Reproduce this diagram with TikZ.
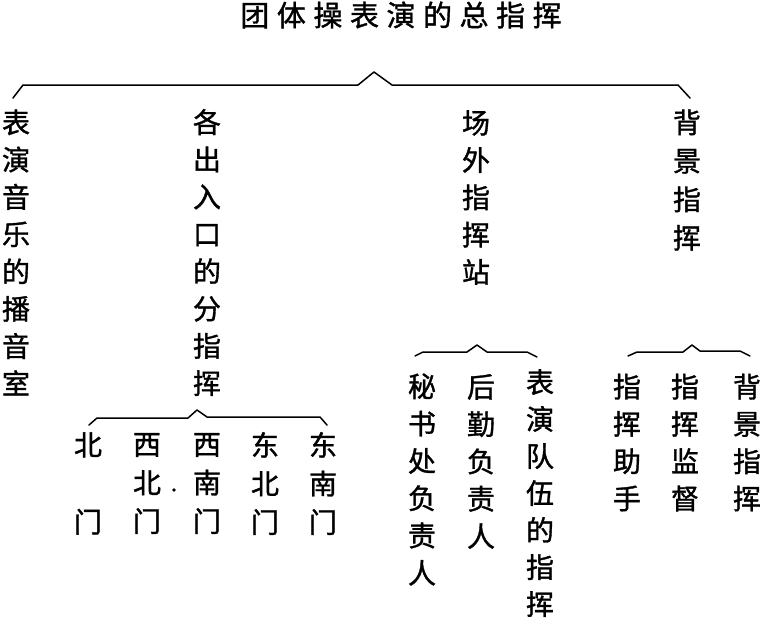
\documentclass[tikz,border=0pt]{standalone}
\usepackage{fontspec}
\newfontfamily\cjk[FakeBold=1.2]{Noto Sans CJK SC}
\newfontfamily\cjkt[LetterSpace=26,FakeBold=1.2]{Noto Sans CJK SC}
\begin{document}
\begin{tikzpicture}[x=1pt,y=-1pt,
  col/.style={font=\cjk\fontsize{28}{37.3}\selectfont, align=center, inner sep=0pt},
  colc/.style={font=\cjk\fontsize{28}{37}\selectfont, align=center, inner sep=0pt},
  colb/.style={font=\cjk\fontsize{28}{38.5}\selectfont, align=center, inner sep=0pt},
  brace/.style={line width=1.5pt, line join=round, line cap=round}]
\useasboundingbox (0,0) rectangle (762,619);

% title
\node[inner sep=0pt, font=\cjkt\fontsize{29}{30}\selectfont] (title) at (401,15) {团体操表演的总指挥};

% level 1
\node[col] (music) at (16,252.5) {表\\演\\音\\乐\\的\\播\\音\\室};
\node[col] (gates) at (207,252.5) {各\\出\\入\\口\\的\\分\\指\\挥};
\node[col] (field) at (476,197.5) {场\\外\\指\\挥\\站};
\node[colb] (bg) at (687,180) {背\\景\\指\\挥};

% top brace
\coordinate (t1) at (13,98);
\coordinate (t2) at (23,85);
\coordinate (t3) at (358,85);
\coordinate (tp) at (374,72);
\coordinate (t4) at (392,85);
\coordinate (t5) at (678,85);
\coordinate (t6) at (690,98);
\draw[brace] (t1) -- (t2) -- (t3) -- (tp) -- (t4) -- (t5) -- (t6);

% gates brace
\coordinate (g1) at (89,425);
\coordinate (g2) at (97,418);
\coordinate (g3) at (188,418);
\coordinate (gp) at (197,410);
\coordinate (g4) at (207,417);
\coordinate (g5) at (320,417);
\coordinate (g6) at (327,425);
\draw[brace] (g1) -- (g2) -- (g3) -- (gp) -- (g4) -- (g5) -- (g6);

\node[colb] (n)  at (88,483.5)  {北\\~\\门};
\node[colb] (nw) at (147,483.5) {西\\北\\门};
\node[colb] (sw) at (207,483.5) {西\\南\\门};
\node[colb] (ne) at (265,483.5) {东\\北\\门};
\node[colb] (se) at (323,483.5) {东\\南\\门};
\fill (174,490) circle (1.8pt);

% field brace
\coordinate (f1) at (415,356);
\coordinate (f2) at (423,352);
\coordinate (f3) at (467,352);
\coordinate (fp) at (477,345);
\coordinate (f4) at (487,352);
\coordinate (f5) at (527,352);
\coordinate (f6) at (537,357);
\draw[brace] (f1) -- (f2) -- (f3) -- (fp) -- (f4) -- (f5) -- (f6);

\node[col] (sec)  at (422,479.5) {秘\\书\\处\\负\\责\\人};
\node[col] (log)  at (481,461.5) {后\\勤\\负\\责\\人};
\node[colc] (team) at (540,493) {表\\演\\队\\伍\\的\\指\\挥};

% background brace
\coordinate (b1) at (628,356);
\coordinate (b2) at (637,352);
\coordinate (b3) at (683,352);
\coordinate (bp) at (692,345);
\coordinate (b4) at (700,351);
\coordinate (b5) at (740,351);
\coordinate (b6) at (750,356);
\draw[brace] (b1) -- (b2) -- (b3) -- (bp) -- (b4) -- (b5) -- (b6);

\node[col] (asst) at (627,442.5) {指\\挥\\助\\手};
\node[col] (sup)  at (685,442.5) {指\\挥\\监\\督};
\node[col] (bgc)  at (747,442.5) {背\\景\\指\\挥};
\end{tikzpicture}
\end{document}
